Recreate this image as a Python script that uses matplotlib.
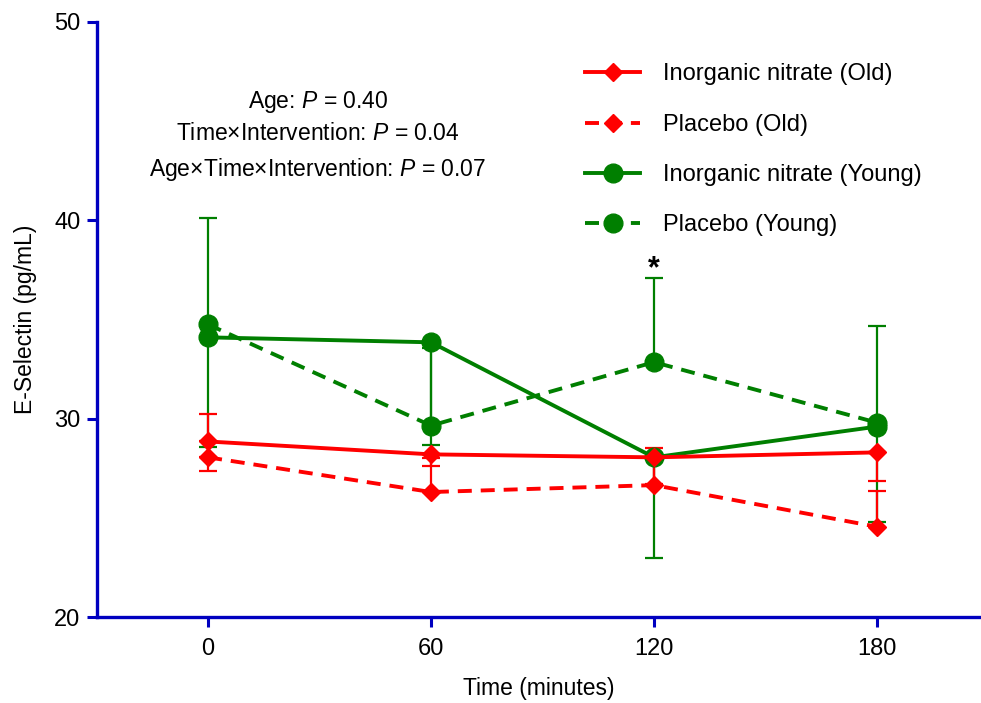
import numpy as np
import matplotlib
matplotlib.use("Agg")
import matplotlib.pyplot as plt
from matplotlib.lines import Line2D

plt.rcParams['font.family'] = ['Liberation Sans', 'DejaVu Sans']
plt.rcParams['mathtext.fontset'] = 'custom'
plt.rcParams['mathtext.it'] = 'Liberation Sans:italic'
plt.rcParams['mathtext.rm'] = 'Liberation Sans'

times = [0, 60, 120, 180]

# group means (pg/mL) with one-sided SEM bars
nitrate_old = [28.85, 28.2, 28.05, 28.3]
nitrate_old_err = [1.5, 0.6, 1.35, 1.45]          # drawn downward
placebo_old = [28.05, 26.3, 26.65, 24.55]
placebo_old_err = [2.2, 1.7, 1.85, 1.8]            # drawn upward

nitrate_young = [34.1, 33.85, 28.05, 29.6]
nitrate_young_err = [5.55, 5.2, 5.05, 4.8]         # drawn downward
placebo_young = [34.75, 29.65, 32.85, 29.8]
placebo_young_err = [5.35, 3.9, 4.25, 4.85]        # drawn upward

labels = ['Inorganic nitrate (Old)', 'Placebo (Old)',
          'Inorganic nitrate (Young)', 'Placebo (Young)']

stats_lines = ["Age: $\\it{P}$ = 0.40",
               "Time\u00d7Intervention: $\\it{P}$ = 0.04",
               "Age\u00d7Time\u00d7Intervention: $\\it{P}$ = 0.07"]

RED = '#FF0000'
GREEN = '#007F00'
AXIS_BLUE = '#0000C0'
DASH = (3.6, 2.3)

fig = plt.figure(figsize=(9.81, 7.03), dpi=100)
ax = fig.add_axes([97/981, 86/703, 884/981, 595/703])

zeros = np.zeros(4)

def draw(y, err, up, color, ls, marker, ms):
    yerr = [zeros, err] if up else [err, zeros]
    kw = dict(dashes=DASH) if ls == '--' else {}
    ax.errorbar(times, y, yerr=yerr, color=color, ecolor=color,
                elinewidth=1.6, capsize=6.5, capthick=1.6,
                linestyle=ls, linewidth=2.8, marker=marker,
                markersize=ms, clip_on=False, **kw)

draw(placebo_young, placebo_young_err, True, GREEN, '--', 'o', 13.5)
draw(nitrate_young, nitrate_young_err, False, GREEN, '-', 'o', 13.5)
draw(placebo_old, placebo_old_err, True, RED, '--', 'D', 9)
draw(nitrate_old, nitrate_old_err, False, RED, '-', 'D', 9)

# significance marker above the 120 min placebo (young) bar
ax.text(120, placebo_young[2] + placebo_young_err[2] - 0.3, '*', ha='center',
        va='bottom', fontsize=22, fontweight='bold')

stat_y = [0.8655, 0.8134, 0.7513]
for s, yy in zip(stats_lines, stat_y):
    ax.text(0.25, yy, s, transform=ax.transAxes, ha='center',
            va='center', fontsize=16.5)

ax.set_xlim(-29.9, 208)
ax.set_ylim(20, 50)
ax.set_xticks(times)
ax.set_yticks([20, 30, 40, 50])
ax.tick_params(labelsize=17, length=7, width=2.2, color=AXIS_BLUE)
ax.tick_params(axis='x', pad=8)
ax.tick_params(axis='y', pad=5)

for side in ['top', 'right']:
    ax.spines[side].set_visible(False)
for side in ['left', 'bottom']:
    ax.spines[side].set_color(AXIS_BLUE)
    ax.spines[side].set_linewidth(2.4)

ax.set_xlabel('Time (minutes)', fontsize=16.5, labelpad=12)
ax.set_ylabel('E-Selectin (pg/mL)', fontsize=16.5, labelpad=12)

handles = [
    Line2D([], [], color=RED, lw=2.8, marker='D', ms=9),
    Line2D([], [], color=RED, lw=2.8, marker='D', ms=9, ls='--', dashes=DASH),
    Line2D([], [], color=GREEN, lw=2.8, marker='o', ms=13.5),
    Line2D([], [], color=GREEN, lw=2.8, marker='o', ms=13.5, ls='--', dashes=DASH),
]
ax.legend(handles, labels, loc='upper left', bbox_to_anchor=(0.528, 0.966),
          frameon=False, fontsize=17, handlelength=2.35, handletextpad=0.95,
          labelspacing=1.2)

fig.savefig('out.png', dpi=100)
